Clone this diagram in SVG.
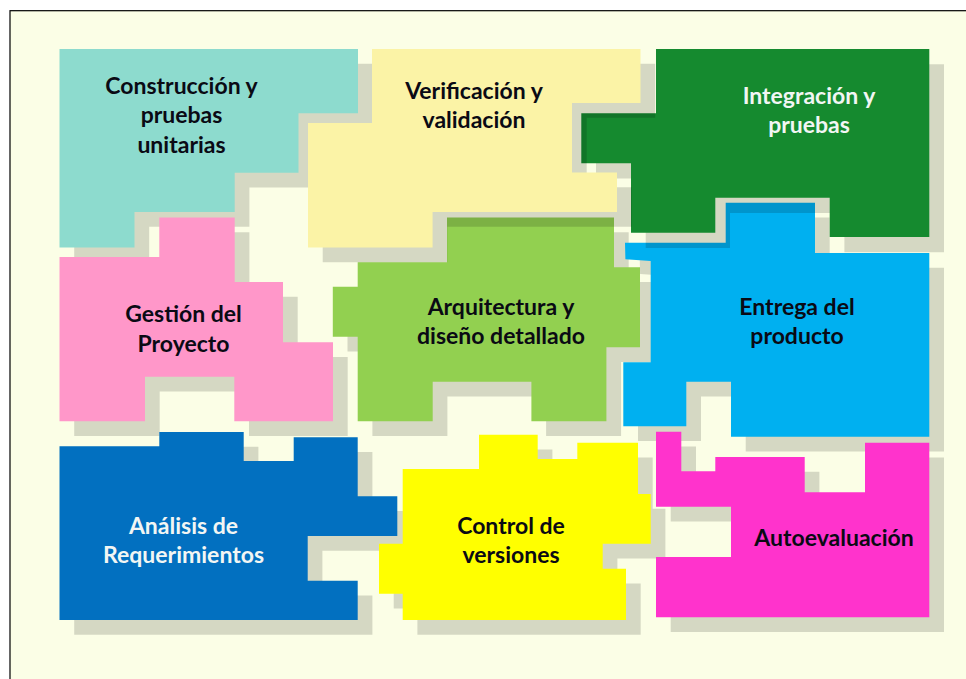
<svg xmlns="http://www.w3.org/2000/svg" xmlns:xlink="http://www.w3.org/1999/xlink" width="966" height="679" viewBox="0 0 966 679">
<style>
.sh{fill:#000;fill-opacity:.15}
text{font-family:"Lato","Carlito","Liberation Sans",sans-serif;font-weight:700;font-size:23px;text-anchor:middle;fill:#0a0a14}
.w{fill:#f2f6f4}
</style>
<defs>
<polygon id="p1" points="59.5,49 358,49 358,113.3 298.5,113.3 298.5,172.7 234.7,172.7 234.7,212 134.5,212 134.5,247.5 59.5,247.5"/>
<polygon id="p2" points="159.3,217.6 234.7,217.6 234.7,282 283,282 283,342.3 333,342.3 333,421.3 234.3,421.3 234.3,376.7 145,376.7 145,421.3 59.5,421.3 59.5,257 159.3,257"/>
<polygon id="p3" points="59.5,446.3 159.3,446.3 159.3,432 243.7,432 243.7,461 293.7,461 293.7,437.3 357.7,437.3 357.7,496.3 397.3,496.3 397.3,536 307.7,536 307.7,580.7 357.7,580.7 357.7,620 59.5,620"/>
<polygon id="p4" points="479,434.7 537.7,434.7 537.7,459 577.3,459 577.3,442.7 638,442.7 638,494 650.7,494 650.7,543.7 602.7,543.7 602.7,568.7 626,568.7 626,620 402.7,620 402.7,593.7 379,593.7 379,543.7 402.7,543.7 402.7,469 479,469"/>
<polygon id="p5" points="447,217.6 614,217.6 614,267.3 640,267.3 640,347.3 606.4,347.3 606.4,421.3 531.4,421.3 531.4,381.7 432.7,381.7 432.7,421.3 357.7,421.3 357.7,336.7 332.8,336.7 332.8,286.7 357.7,286.7 357.7,262.3 447,262.3"/>
<polygon id="p6" points="725.7,202.7 815,202.7 815,253 929.3,253 929.3,436.7 731,436.7 731,381.7 686.3,381.7 686.3,426.3 623.3,426.3 623.3,362.3 650.7,362.3 650.7,261 625.4,259.3 625,242.7 725.7,242.7"/>
<polygon id="p7" points="656,431.7 681.3,431.7 681.3,471.3 715.3,471.3 715.3,457 804.7,457 804.7,492.3 865,492.3 865,442.7 929.3,442.7 929.3,617.3 656,617.3 656,557 731,557 731,506.7 656,506.7"/>
<polygon id="p8" points="656,49 929.3,49 929.3,237 829.7,237 829.7,197.7 715.3,197.7 715.3,232.7 631,232.7 631,163.3 581.3,163.3 581.3,113.3 656,113.3"/>
<polygon id="p9" points="372,49 640.5,49 640.5,103 572,103 572,172.5 617,172.5 617,212 432.6,212 432.6,247.5 308,247.5 308,123 372,123"/>
</defs>
<rect width="966" height="679" fill="#fff"/>
<rect x="10" y="10.7" width="957" height="669" fill="#fbfee6" stroke="#000" stroke-width="1.2"/>
<g id="construccion">
<use xlink:href="#p1" class="sh" transform="translate(14.7 14.7)"/>
<use xlink:href="#p1" fill="#8ddbce"/>
<text x="181.5" y="93.5">Construcción y</text><text x="181.5" y="123">pruebas</text><text x="181.5" y="152.5">unitarias</text>
</g>
<g id="gestion">
<use xlink:href="#p2" class="sh" transform="translate(14.7 14.7)"/>
<use xlink:href="#p2" fill="#ff97c9"/>
<text x="183.5" y="321.5">Gestión del</text><text x="183.5" y="351.5">Proyecto</text>
</g>
<g id="analisis">
<use xlink:href="#p3" class="sh" transform="translate(14.7 14.7)"/>
<use xlink:href="#p3" fill="#0270c0"/>
<text class="w" x="183.5" y="533.5">Análisis de</text><text class="w" x="183.5" y="563">Requerimientos</text>
</g>
<g id="control">
<use xlink:href="#p4" class="sh" transform="translate(14.7 14.7)"/>
<use xlink:href="#p4" fill="#ffff00"/>
<text x="511" y="533.5">Control de</text><text x="511" y="563">versiones</text>
</g>
<g id="arquitectura">
<use xlink:href="#p5" class="sh" transform="translate(14.7 14.7)"/>
<use xlink:href="#p5" fill="#92d050"/>
<text x="501" y="314.5">Arquitectura y</text><text x="501" y="344">diseño detallado</text>
</g>
<g id="entrega">
<use xlink:href="#p6" class="sh" transform="translate(14.7 14.7)"/>
<use xlink:href="#p6" fill="#00b0f0"/>
<text x="797" y="314.5">Entrega del</text><text x="797" y="344">producto</text>
</g>
<g id="autoevaluacion">
<use xlink:href="#p7" class="sh" transform="translate(14.7 14.7)"/>
<use xlink:href="#p7" fill="#ff33cc"/>
<text x="834" y="545.5">Autoevaluación</text>
</g>
<g id="integracion">
<use xlink:href="#p8" class="sh" transform="translate(14.7 15.2)"/>
<use xlink:href="#p8" fill="#158a2f"/>
<text class="w" x="809" y="103.5">Integración y</text><text class="w" x="809" y="133">pruebas</text>
</g>
<g id="verificacion">
<use xlink:href="#p9" class="sh" transform="translate(14.7 14.7)"/>
<use xlink:href="#p9" fill="#fbf3a6"/>
<text x="474" y="98.5">Verificación y</text><text x="474" y="127.5">validación</text>
</g>
</svg>
